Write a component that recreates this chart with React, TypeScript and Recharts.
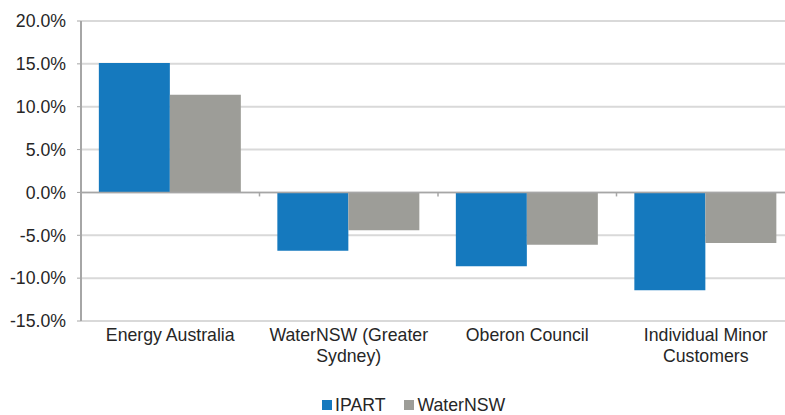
import React from 'react';
import {
  BarChart, Bar, XAxis, YAxis, CartesianGrid, Legend, ReferenceLine
} from 'recharts';

// Category labels (\n marks where the original wraps)
const categories = [
  'Energy Australia',
  'WaterNSW (Greater\nSydney)',
  'Oberon Council',
  'Individual Minor\nCustomers',
];

// Percentage change
const ipartValues = [15.1, -6.8, -8.6, -11.4];
const waterNswValues = [11.4, -4.4, -6.1, -5.9];

const yTicks = [-15, -10, -5, 0, 5, 10, 15, 20];

const colors = {
  ipart: '#1579BE',
  waterNsw: '#9D9D98',
  axis: '#A6A6A6',
  grid: '#D9D9D9',
  text: '#262626',
};

const FONT = '"Liberation Sans", Arial, sans-serif';
const FONT_SIZE = 17.7;

const data = categories.map((name, i) => ({
  name,
  ipart: ipartValues[i],
  waterNsw: waterNswValues[i],
}));

// multi-line category label
const CategoryTick = (props: any) => {
  const { x, y, payload } = props;
  const lines: string[] = String(payload.value).split('\n');
  return (
    <text x={x} y={y} textAnchor="middle" fill={colors.text} fontSize={FONT_SIZE} fontFamily={FONT}>
      {lines.map((line, i) => (
        <tspan key={i} x={x} dy={i === 0 ? 20 : 21}>{line}</tspan>
      ))}
    </text>
  );
};

// zero line plus small tick marks between categories (like the Excel axis)
const ZeroLine = (props: any) => {
  const { x1, y1, x2, y2 } = props;
  const n = categories.length;
  const step = (x2 - x1) / n;
  const ticks = [];
  for (let i = 0; i <= n; i++) {
    const tx = x1 + step * i;
    ticks.push(<line key={i} x1={tx} y1={y1} x2={tx} y2={y1 + 4} stroke={colors.axis} strokeWidth={1.5} />);
  }
  return (
    <g>
      <line x1={x1} y1={y1} x2={x2} y2={y2} stroke={colors.axis} strokeWidth={1.5} />
      {ticks}
    </g>
  );
};

const LegendContent = () => (
  <div style={{ display: 'flex', alignItems: 'center', fontFamily: FONT, fontSize: FONT_SIZE, color: colors.text, height: 20 }}>
    <span style={{ width: 10, height: 10, background: colors.ipart, display: 'inline-block', marginRight: 3 }} />
    <span style={{ marginRight: 19 }}>IPART</span>
    <span style={{ width: 10, height: 10, background: colors.waterNsw, display: 'inline-block', marginRight: 3 }} />
    <span>WaterNSW</span>
  </div>
);

export default function App() {
  return (
    <div style={{ position: 'absolute', left: 0, top: 0, width: 785, height: 415, overflow: 'hidden', background: '#fff' }}>
      <BarChart
        width={800}
        height={415}
        data={data}
        margin={{ top: 21, right: 5, left: 0, bottom: 0 }}
        barCategoryGap="10%"
        barGap={0}
      >
        <CartesianGrid vertical={false} stroke={colors.grid} strokeWidth={2} />
        <XAxis
          dataKey="name"
          height={74}
          axisLine={false}
          tickLine={false}
          tickSize={0}
          tickMargin={0}
          interval={0}
          tick={<CategoryTick />}
        />
        <YAxis
          width={81}
          domain={[-15, 20]}
          ticks={yTicks}
          interval={0}
          tickFormatter={(v: number) => `${v.toFixed(1)}%`}
          axisLine={{ stroke: colors.axis, strokeWidth: 2 }}
          tickLine={{ stroke: colors.axis }}
          tickSize={4}
          tickMargin={11}
          tick={{ fill: colors.text, fontSize: FONT_SIZE, fontFamily: FONT }}
        />
        <Bar dataKey="ipart" name="IPART" fill={colors.ipart} isAnimationActive={false} />
        <Bar dataKey="waterNsw" name="WaterNSW" fill={colors.waterNsw} isAnimationActive={false} />
        <ReferenceLine y={0} shape={<ZeroLine />} />
        <Legend
          content={<LegendContent />}
          wrapperStyle={{ left: 322, top: 395, bottom: 'auto', width: 'auto' }}
        />
      </BarChart>
    </div>
  );
}
